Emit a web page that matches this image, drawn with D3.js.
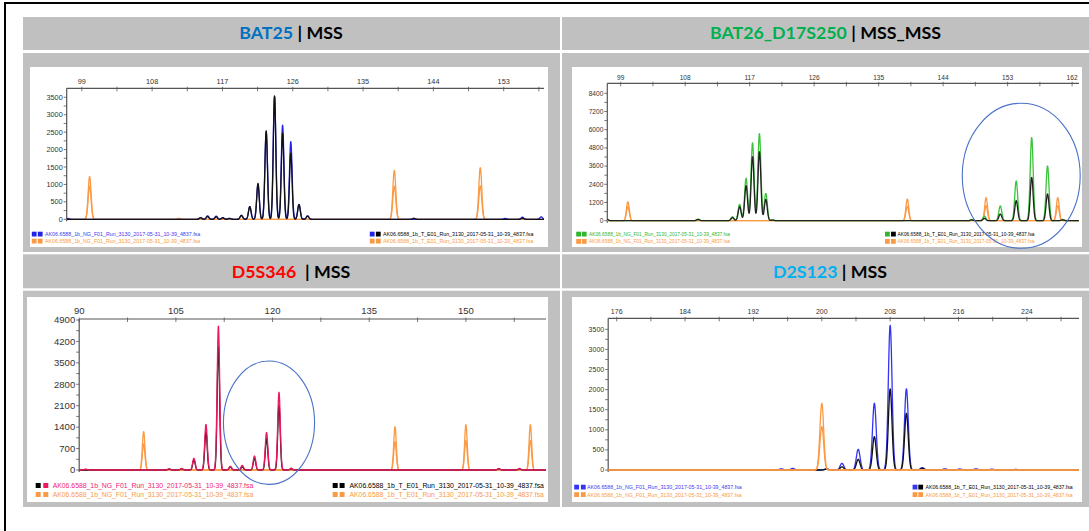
<!DOCTYPE html>
<html><head><meta charset="utf-8">
<script src="https://cdn.jsdelivr.net/npm/d3@7"></script>
<style>body{margin:0;background:#fff;}svg{display:block;}</style>
</head><body><svg id="c" width="1089" height="531"></svg>
<script>
// ---------- DATA ----------
const titleNames = ["BAT25", "BAT26_D17S250", "D5S346", "D2S123"];
const titleStatus = ["MSS", "MSS_MSS", "MSS", "MSS"];
const legendNG = "AK06.6588_1b_NG_F01_Run_3130_2017-05-31_10-39_4837.fsa";
const legendT = "AK06.6588_1b_T_E01_Run_3130_2017-05-31_10-39_4837.fsa";

// tick labels
const bat25XTicks = [99, 108, 117, 126, 135, 144, 153];
const bat25YTicks = [0, 500, 1000, 1500, 2000, 2500, 3000, 3500];
const bat26XTicks = [99, 108, 117, 126, 135, 144, 153, 162];
const bat26YTicks = [0, 1200, 2400, 3600, 4800, 6000, 7200, 8400];
const d5XTicks = [90, 105, 120, 135, 150];
const d5YTicks = [0, 700, 1400, 2100, 2800, 3500, 4200, 4900];
const d2XTicks = [176, 184, 192, 200, 208, 216, 224];
const d2YTicks = [0, 500, 1000, 1500, 2000, 2500, 3000, 3500];

// peaks: [size (bp), height (RFU)]
const bat25NG = [[97.2,25],[114.2,50],[115.1,100],[116.2,90],[117.05,50],[117.9,30],[119.43,110],[120.5,360],[121.55,1000],[122.6,2500],[123.67,3510],[124.7,2700],[125.75,2230],[126.8,430],[127.9,100],[153.2,25],[155.4,60],[157.8,70]];
const bat25T = [[114.2,40],[115.1,80],[116.2,70],[117.05,40],[117.9,20],[119.43,115],[120.5,365],[121.55,1030],[122.6,2540],[123.67,3540],[124.7,2470],[125.75,1900],[126.8,420],[127.9,90],[141.5,30],[155.4,30]];
const bat25LadderNG = [[100,1230],[111.4,30],[139,1400],[150,1480]];
const bat25LadderT = [[100,950],[139,950],[150,960]];

const bat26NG = [[97.0,160],[109.8,100],[114.6,260],[115.6,1080],[116.5,2800],[117.4,5130],[118.36,5740],[119.25,1800],[120.2,60],[148,80],[149.76,300],[151.98,970],[154.2,2620],[156.36,5480],[158.57,3610],[160.7,80]];
const bat26T = [[97.0,130],[109.8,80],[114.6,200],[115.6,920],[116.5,2310],[117.4,4220],[118.36,4550],[119.25,1400],[120.2,40],[148,50],[149.76,150],[151.98,440],[154.2,1320],[156.36,2860],[158.57,1760],[160.7,50]];
const bat26LadderNG = [[100,1250],[139,1430],[150,1520],[160,1520]];
const bat26LadderT = [[100,920],[139,950],[150,990],[160,990]];

const d5NG = [[91,30],[103.95,40],[105.9,50],[107.8,380],[109.67,1490],[111.6,4700],[113.45,120],[115.3,150],[117.2,457],[119.07,1230],[121,2540],[122.9,60],[155.1,50],[158.3,50]];
const d5T = [[103.95,30],[105.9,40],[107.8,330],[109.67,1250],[111.6,4030],[113.45,100],[115.3,100],[117.2,380],[119.07,1030],[121,2120],[122.9,40],[155.1,40],[158.3,40]];
const d5LadderNG = [[100,1250],[139,1415],[150,1480],[160,1480]];
const d5LadderT = [[100,850],[139,925],[150,960],[160,960]];

const d2NG = [[195.26,30],[196.6,40],[200.55,30],[202.36,165],[204.26,515],[206.15,1660],[208,3600],[209.9,2020],[211.76,60],[214.4,30],[216.15,25],[218.05,30],[219.9,20],[222.7,15]];
const d2T = [[200.55,20],[202.36,80],[204.26,265],[206.15,830],[208,2015],[209.9,1410],[211.76,40],[214.4,10],[216.15,10],[218.05,10],[219.9,10]];
const d2LadderNG = [[200,1660]];
const d2LadderT = [[200,1080]];

// highlighted regions (ellipses): [centre size, centre height, half-width bp, half-height RFU]
const bat26Highlight = [154.9, 2960, 8.23, 4780];
const d5Highlight = [119.45, 1545, 7.07, 2015];

// ---------- DRAWING ----------
const svg = d3.select('#c');
const GRAY = '#c0c0c0', ORANGE = '#fb9a45';

svg.append('rect').attr('x', 23).attr('y', 17).attr('width', 1070).attr('height', 490).attr('fill', GRAY);
// white separators
[[50, 3], [252, 2.3], [288.3, 2.4]].forEach(([yy, h]) =>
  svg.append('rect').attr('x', 23).attr('y', yy).attr('width', 1070).attr('height', h).attr('fill', '#fff'));
svg.append('rect').attr('x', 560).attr('y', 17).attr('width', 2).attr('height', 490).attr('fill', '#fff');
// outer black frame
svg.append('rect').attr('x', 5).attr('y', 3).attr('width', 1200).attr('height', 600)
  .attr('fill', 'none').attr('stroke', '#000').attr('stroke-width', 2);

const titleColors = ['#0070C0', '#00B050', '#FF0000', '#00B0F0'];
const titlePos = [[291, 38.8], [825.5, 38.8], [291, 277.8], [830, 277.8]];
titleNames.forEach((n, i) => {
  const t = svg.append('text').attr('x', titlePos[i][0]).attr('y', titlePos[i][1])
    .attr('text-anchor', 'middle').style('font-family', 'Lato, "Open Sans", sans-serif')
    .style('font-weight', 700).style('font-size', '17.8px').style('white-space', 'pre');
  t.append('tspan').attr('fill', titleColors[i]).text(n);
  t.append('tspan').attr('fill', '#000').text((i === 2 ? '  | ' : ' | ') + titleStatus[i]);
});

function drawPanel(c) {
  const g = svg.append('g');
  g.append('rect').attr('x', c.box[0]).attr('y', c.box[1]).attr('width', c.box[2] - c.box[0])
    .attr('height', c.box[3] - c.box[1]).attr('fill', '#fff');
  const x = d3.scaleLinear().domain([c.xt[0], c.xt[c.xt.length - 1]]).range(c.xr);
  const y = d3.scaleLinear().domain([0, c.yt[c.yt.length - 1]]).range(c.yr);
  const xMin = x.invert(c.ax), xMax = x.invert(c.ar);
  const axCol = '#555';
  // x axis (top)
  g.append('line').attr('x1', c.ax).attr('x2', c.ar).attr('y1', c.ay).attr('y2', c.ay)
    .attr('stroke', axCol).attr('stroke-width', 1.2);
  const half = (c.xt[1] - c.xt[0]) / 2;
  let s = c.xt[0];
  while (s - half >= xMin) s -= half;
  const xt = d3.range(s, xMax + 1e-6, half);
  g.selectAll(null).data(xt).join('line')
    .attr('x1', d => x(d)).attr('x2', d => x(d)).attr('y1', c.ay - 1.5).attr('y2', c.ay + 3)
    .attr('stroke', axCol).attr('stroke-width', 0.8);
  g.selectAll(null).data(c.xt).join('text')
    .attr('x', d => x(d)).attr('y', c.ay - c.xlOff).attr('text-anchor', 'middle')
    .style('font-family', 'Liberation Sans, Arial, sans-serif').style('font-size', c.fs + 'px')
    .attr('fill', '#333').text(d => d);
  // y axis
  g.append('line').attr('x1', c.ax).attr('x2', c.ax).attr('y1', c.ay).attr('y2', y(0) + 2)
    .attr('stroke', axCol).attr('stroke-width', 1.2);
  const ystep = c.yt[1] - c.yt[0];
  const ym = d3.range(0, c.yt[c.yt.length - 1] + 1, ystep / 2);
  g.selectAll(null).data(ym).join('line')
    .attr('x1', c.ax - 3).attr('x2', c.ax).attr('y1', d => y(d)).attr('y2', d => y(d))
    .attr('stroke', axCol).attr('stroke-width', 0.8);
  g.selectAll(null).data(c.yt).join('text')
    .attr('x', c.ax - 4).attr('y', d => y(d)).attr('dy', '0.35em').attr('text-anchor', 'end')
    .style('font-family', 'Liberation Sans, Arial, sans-serif').style('font-size', c.fs + 'px')
    .attr('fill', '#333').text(d => d);
  // traces
  const line = d3.line().x(d => x(d[0])).y(d => y(d[1]));
  const grid = d3.range(xMin, xMax, 0.02);
  function trace(peaks, sigma) {
    return line(grid.map(v => [v, d3.sum(peaks, p => p[1] * Math.exp(-((v - p[0]) ** 2) / (2 * sigma * sigma)))]));
  }
  c.traces.forEach(t => {
    g.append('path').attr('d', trace(t.peaks, t.sigma)).attr('fill', 'none')
      .attr('stroke', t.color).attr('stroke-width', 1.3).attr('stroke-linejoin', 'round');
  });
  // legend
  const L = c.leg;
  const rows = [
    {y: L.y1, side: 'l', sq: [c.col, c.col], txt: legendNG, tc: c.txtCol},
    {y: L.y2, side: 'l', sq: [ORANGE, ORANGE], txt: legendNG, tc: ORANGE},
    {y: L.y1, side: 'r', sq: [c.tSq, '#000'], txt: legendT, tc: '#000'},
    {y: L.y2, side: 'r', sq: [ORANGE, ORANGE], txt: legendT, tc: ORANGE}
  ];
  if (c.ngFirstSq) rows[0].sq = [c.ngFirstSq, c.col];
  rows.forEach(r => {
    const sqx = r.side === 'l' ? L.lsq : L.rsq;
    const tx = r.side === 'l' ? L.ltx : L.rtx;
    r.sq.forEach((col, k) => g.append('rect').attr('x', sqx[k]).attr('y', r.y - L.sq + 0.5)
      .attr('width', L.sq).attr('height', L.sq).attr('fill', col));
    const te = g.append('text').attr('x', tx[0]).attr('y', r.y)
      .style('font-family', 'Liberation Sans, Arial, sans-serif').style('font-size', '10px')
      .attr('fill', r.tc).text(r.txt);
    // size font so the natural width fits the measured span
    const w = te.node().getComputedTextLength();
    te.style('font-size', (10 * (tx[1] - tx[0]) / w) + 'px');
  });
  if (c.hl) {
    const h = c.hl;
    g.append('ellipse').attr('cx', x(h[0])).attr('cy', y(h[1]))
      .attr('rx', Math.abs(x(h[0] + h[2]) - x(h[0]))).attr('ry', Math.abs(y(h[3]) - y(0)))
      .attr('fill', 'none').attr('stroke', '#4a72c8').attr('stroke-width', 1.1);
  }
}

drawPanel({
  box: [30, 67, 548, 247], xt: bat25XTicks, xr: [81.8, 503.7], yt: bat25YTicks, yr: [219.3, 97.3],
  ax: 66.7, ar: 544, ay: 88.3, xlOff: 4, fs: 7.3,
  col: '#2323e6', txtCol: '#3b3bf0', tSq: '#2323e6',
  traces: [
    {peaks: bat25LadderT, sigma: 0.19, color: ORANGE},
    {peaks: bat25LadderNG, sigma: 0.19, color: ORANGE},
    {peaks: bat25NG, sigma: 0.17, color: '#2323e6'},
    {peaks: bat25T, sigma: 0.16, color: '#111'}
  ],
  leg: {y1: 236, y2: 243, sq: 4.8, lsq: [31.8, 37.8], ltx: [45, 200.8], rsq: [369.8, 375.9], rtx: [383, 533.8]}
});
drawPanel({
  box: [572, 67, 1082, 247], xt: bat26XTicks, xr: [620.7, 1072.1], yt: bat26YTicks, yr: [220.7, 93.3],
  ax: 607.3, ar: 1079, ay: 83.3, xlOff: 3.5, fs: 6.6,
  col: '#2fb52f', txtCol: '#2fb52f', tSq: '#2fb52f', hl: bat26Highlight,
  traces: [
    {peaks: bat26LadderT, sigma: 0.2, color: ORANGE},
    {peaks: bat26LadderNG, sigma: 0.2, color: ORANGE},
    {peaks: bat26NG, sigma: 0.21, color: '#3cc43c'},
    {peaks: bat26T, sigma: 0.2, color: '#222'}
  ],
  leg: {y1: 236, y2: 243.3, sq: 4.8, lsq: [576.2, 581.8], ltx: [589, 730.4], rsq: [885, 891], rtx: [897.5, 1035]}
});
drawPanel({
  box: [27, 297, 548, 502], xt: d5XTicks, xr: [79.2, 465.9], yt: d5YTicks, yr: [470, 320],
  ax: 79.2, ar: 546, ay: 319, xlOff: 5, fs: 9.5,
  col: '#ec1861', txtCol: '#f01b70', tSq: '#000', ngFirstSq: '#000', hl: d5Highlight,
  traces: [
    {peaks: d5LadderT, sigma: 0.2, color: ORANGE},
    {peaks: d5LadderNG, sigma: 0.2, color: ORANGE},
    {peaks: d5T, sigma: 0.19, color: '#111'},
    {peaks: d5NG, sigma: 0.2, color: '#ec1861'}
  ],
  leg: {y1: 487.5, y2: 496.5, sq: 5, lsq: [35.7, 43.3], ltx: [52.7, 253.5], rsq: [332.7, 339.6], rtx: [349.5, 544]}
});
drawPanel({
  box: [572, 297, 1082, 502], xt: d2XTicks, xr: [616.7, 1026.9], yt: d2YTicks, yr: [470, 329.3],
  ax: 608.2, ar: 1079, ay: 318.3, xlOff: 4, fs: 7,
  col: '#3434f5', txtCol: '#3b3bf0', tSq: '#3434f5',
  traces: [
    {peaks: d2NG, sigma: 0.22, color: '#3434f5'},
    {peaks: d2T, sigma: 0.21, color: '#111'},
    {peaks: d2LadderT, sigma: 0.22, color: ORANGE},
    {peaks: d2LadderNG, sigma: 0.22, color: ORANGE}
  ],
  leg: {y1: 489, y2: 496.5, sq: 4.8, lsq: [574.2, 580.9], ltx: [587, 742.2], rsq: [912.6, 918.3], rtx: [925.5, 1073]}
});
</script></body></html>
